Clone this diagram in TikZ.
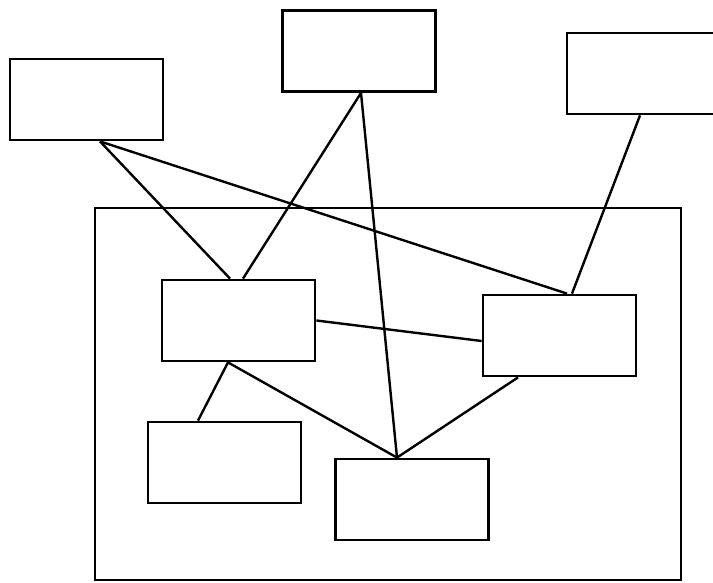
\documentclass[tikz,border=0pt]{standalone}
\usetikzlibrary{calc}
\tikzset{
  box/.style={draw, line width=1.4pt, minimum width=76.5pt, minimum height=40.5pt, inner sep=0pt},
  link/.style={line width=1.2pt}
}
\begin{document}
\begin{tikzpicture}[x=0.5pt,y=-0.5pt]
    \useasboundingbox (0,0) rectangle (713,583);
    \clip (0,0) rectangle (713,583);
    \draw[line width=1.4pt] (95,208) rectangle (681,580);
    % outer boxes
    \node[box] (topl) at (86.5,99.5) {};
    \node[box] (topm) at (359,51) {};
    \node[box] (topr) at (643.5,73.5) {};
    % inner boxes
    \node[box] (midl) at (238.5,320.5) {};
    \node[box] (midr) at (559.5,335.5) {};
    \node[box] (lowl) at (224.5,462.5) {};
    \node[box] (lowm) at (412,499.5) {};
    \draw[link] ($(topl.south)+(13.5,0)$) -- ($(midl.north)+(-8.5,0)$);
    \draw[link] ($(topl.south)+(13.5,0)$) -- ($(midr.north)+(7.5,0)$);
    \draw[link] ($(topm.south)+(2,0)$) -- ($(midl.north)+(4.5,0)$);
    \draw[link] ($(topm.south)+(2,0)$) -- ($(lowm.north)+(-15,0)$);
    \draw[link] ($(topr.south)+(-3.5,0)$) -- ($(midr.north)+(12.5,0)$);
    \draw[link] (midl.east) -- ($(midr.west)+(0,5.5)$);
    \draw[link] ($(midl.south)+(-10.5,0)$) -- ($(lowl.north)+(-26.5,0)$);
    \draw[link] ($(midl.south)+(-10.5,0)$) -- ($(lowm.north)+(-15,0)$);
    \draw[link] ($(midr.south)+(-41.5,0)$) -- ($(lowm.north)+(-15,0)$);
  \end{tikzpicture}
\end{document}
